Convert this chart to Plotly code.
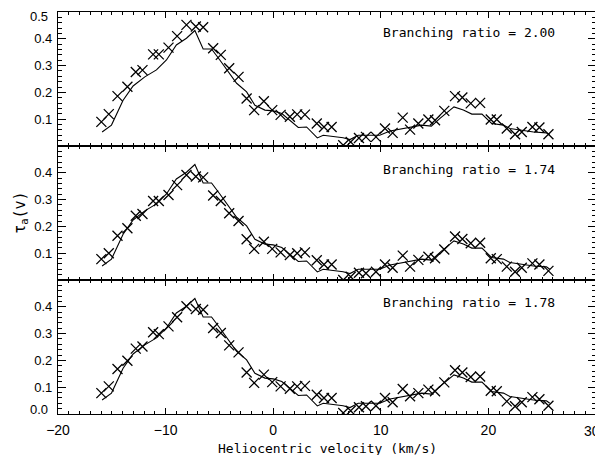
import plotly.graph_objects as go
from plotly.subplots import make_subplots

# Velocity grid of the observed points (km/s)
velocity = [-15.97, -15.28, -14.47, -13.55, -12.77, -12.15, -11.16, -10.63, -9.73, -8.93,
            -8.06, -7.19, -6.51, -5.58, -4.87, -4.09, -3.22, -2.47, -1.77, -0.87,
            -0.09, 0.69, 1.55, 2.23, 2.95, 4.05, 4.72, 5.43, 6.51, 7.2,
            7.97, 8.62, 9.55, 10.39, 11.1, 12.04, 12.72, 13.49, 14.42, 15.04,
            15.9, 16.9, 17.58, 18.36, 19.23, 20.22, 20.78, 21.71, 22.48, 23.1,
            24.09, 24.74, 25.58]

# Observed apparent optical depth for each branching ratio
tau_200 = [0.090, 0.119, 0.186, 0.221, 0.276, 0.283, 0.342, 0.342, 0.367, 0.410,
           0.452, 0.446, 0.443, 0.365, 0.340, 0.290, 0.258, 0.177, 0.134, 0.167,
           0.134, 0.116, 0.109, 0.118, 0.117, 0.084, 0.071, 0.071, 0.003, 0.015,
           0.030, 0.034, 0.034, 0.065, 0.049, 0.106, 0.061, 0.084, 0.099, 0.096,
           0.131, 0.186, 0.181, 0.159, 0.161, 0.099, 0.099, 0.065, 0.044, 0.052,
           0.071, 0.069, 0.044]
tau_174 = [0.078, 0.100, 0.165, 0.193, 0.240, 0.246, 0.295, 0.295, 0.317, 0.354,
           0.392, 0.386, 0.383, 0.315, 0.295, 0.249, 0.220, 0.152, 0.116, 0.143,
           0.116, 0.103, 0.093, 0.100, 0.103, 0.074, 0.058, 0.058, 0.000, 0.012,
           0.027, 0.025, 0.031, 0.058, 0.046, 0.091, 0.050, 0.075, 0.087, 0.081,
           0.114, 0.162, 0.153, 0.137, 0.139, 0.081, 0.078, 0.050, 0.031, 0.046,
           0.062, 0.058, 0.034]
tau_178 = [0.078, 0.103, 0.168, 0.199, 0.244, 0.252, 0.305, 0.298, 0.327, 0.361,
           0.402, 0.392, 0.389, 0.321, 0.302, 0.256, 0.230, 0.155, 0.116, 0.147,
           0.119, 0.103, 0.094, 0.103, 0.105, 0.072, 0.060, 0.060, 0.004, 0.012,
           0.025, 0.029, 0.031, 0.060, 0.044, 0.093, 0.066, 0.078, 0.091, 0.085,
           0.118, 0.163, 0.155, 0.138, 0.140, 0.087, 0.085, 0.047, 0.029, 0.044,
           0.063, 0.055, 0.031]

# Comparison profile (solid line)
model_velocity = [-15.9, -15.03, -13.95, -13.02, -11.93, -10.85, -9.92, -9.0, -8.06, -7.28,
                  -6.51, -5.73, -4.96, -4.19, -3.4, -2.47, -1.7, -0.77, 0.0, 0.8,
                  1.55, 2.33, 3.1, 4.1, 4.65, 5.58, 6.5, 7.13, 7.9, 9.0,
                  9.9, 10.86, 11.8, 12.7, 13.8, 14.7, 15.5, 16.8, 17.67, 18.46,
                  19.4, 20.3, 21.4, 22.0, 22.95, 24.2, 25.4, 25.7]
model_tau = [0.052, 0.078, 0.171, 0.224, 0.258, 0.284, 0.321, 0.377, 0.402, 0.431,
             0.362, 0.362, 0.321, 0.277, 0.234, 0.202, 0.152, 0.134, 0.131, 0.121,
             0.096, 0.069, 0.071, 0.030, 0.040, 0.036, 0.031, 0.024, 0.040, 0.040,
             0.040, 0.056, 0.063, 0.071, 0.078, 0.074, 0.103, 0.146, 0.134, 0.119,
             0.119, 0.084, 0.078, 0.065, 0.059, 0.052, 0.049, 0.040]

panel_labels = ["Branching ratio = 2.00", "Branching ratio = 1.74", "Branching ratio = 1.78"]
panel_tau = [tau_200, tau_174, tau_178]
# Interior y ticks; the labels at the frame edges (0.5 top, 0.0 bottom) are added as text
panel_yticks = [[0.1, 0.2, 0.3, 0.4], [0.1, 0.2, 0.3, 0.4], [0.1, 0.2, 0.3, 0.4]]
x_range = [-20, 30]
x_ticks = [-20, -10, 0, 10, 20]

fig = make_subplots(rows=3, cols=1, shared_xaxes=True, vertical_spacing=0)

mono = "DejaVu Sans Mono"
sans = "Liberation Sans"

for i in range(3):
    r = i + 1
    fig.add_trace(go.Scatter(x=model_velocity, y=model_tau, mode="lines",
                             line=dict(color="black", width=1.1), showlegend=False),
                  row=r, col=1)
    fig.add_trace(go.Scatter(x=velocity, y=panel_tau[i], mode="markers",
                             marker=dict(symbol="x-thin-open", size=10, color="black",
                                         line=dict(color="black", width=1.3)),
                             showlegend=False),
                  row=r, col=1)
    fig.update_yaxes(range=[0, 0.5], tickvals=panel_yticks[i], tickformat=".1f",
                     ticks="inside", ticklen=8, tickwidth=1, tickcolor="black",
                     showline=True, linecolor="black", linewidth=1.2, mirror="ticks",
                     showgrid=False, zeroline=False, automargin=False,
                     minor=dict(ticks="inside", ticklen=4, dtick=0.02, tick0=0,
                                tickcolor="black", showgrid=False),
                     ticklabelstandoff=2,
                     row=r, col=1)
    fig.update_xaxes(range=x_range, tickvals=x_ticks,
                     ticks="inside", ticklen=6, tickwidth=1, tickcolor="black",
                     showline=True, linecolor="black", linewidth=1.2, mirror="ticks",
                     showgrid=False, zeroline=False, automargin=False,
                     minor=dict(ticks="inside", ticklen=3, dtick=1, tick0=0,
                                tickcolor="black", showgrid=False),
                     row=r, col=1)
    fig.add_annotation(text=panel_labels[i], x=26.4, y=[0.422, 0.414, 0.415][i],
                       xref="x" + ("" if r == 1 else str(r)),
                       yref="y" + ("" if r == 1 else str(r)),
                       xanchor="right", yanchor="middle", showarrow=False,
                       font=dict(family=mono, size=13, color="black"))

fig.update_xaxes(ticklabelstandoff=3, tickfont=dict(size=14), row=3, col=1)

# Edge tick labels (at the frame corners), placed as in the original
fig.add_annotation(text="0.5", x=-0.015, y=0.9876, xref="paper", yref="paper",
                   xanchor="right", yanchor="middle", showarrow=False,
                   font=dict(family=sans, size=13, color="black"))
fig.add_annotation(text="0.0", x=-0.015, y=0.0107, xref="paper", yref="paper",
                   xanchor="right", yanchor="middle", showarrow=False,
                   font=dict(family=sans, size=13, color="black"))
fig.add_annotation(text=str(x_range[1]), x=0.993, y=-0.043, xref="paper", yref="paper",
                   xanchor="center", yanchor="middle", showarrow=False,
                   font=dict(family=sans, size=14, color="black"))

fig.add_annotation(text="Heliocentric velocity (km/s)", x=0.5, y=-0.085,
                   xref="paper", yref="paper", xanchor="center", yanchor="middle",
                   showarrow=False, font=dict(family=mono, size=13, color="black"))

fig.add_annotation(text="τ<sub>a</sub>(v)", x=-0.071, y=0.5, xref="paper", yref="paper",
                   textangle=-90, showarrow=False, xanchor="center", yanchor="middle",
                   font=dict(family=mono, size=15, color="black"))

# The page body adds an 8px offset, so the figure is sized to fill the rest of the window.
fig.update_layout(width=595, height=447,
                  margin=dict(l=50, r=7, t=4, b=41),
                  paper_bgcolor="white", plot_bgcolor="white",
                  font=dict(family=sans, size=13, color="black"))

fig.write_html("out.html")
